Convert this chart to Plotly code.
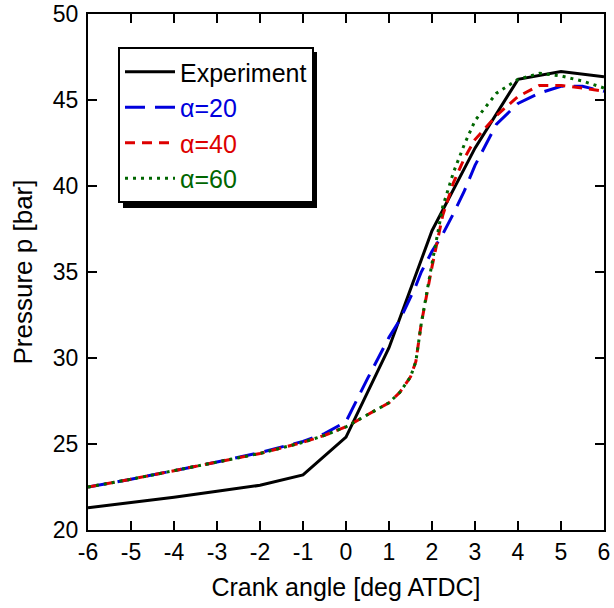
import plotly.graph_objects as go

x_exp = [-6, -5, -4, -3, -2, -1, 0, 1, 2, 3, 4, 5, 6]
p_exp = [21.3, 21.6, 21.9, 22.25, 22.6, 23.2, 25.4, 30.6, 37.4, 42.2, 46.2, 46.65, 46.35]

x_sim = [-6, -5, -4, -3, -2, -1, -0.5, 0, 0.5, 1, 1.25, 1.5, 1.625, 1.75, 2, 2.25, 2.5, 2.75, 3, 3.5, 4, 4.5, 5, 5.5, 6]
p_a20 = [22.5, 22.95, 23.45, 23.95, 24.5, 25.15, 25.6, 26.3, 28.8, 31.2, 32.2, 33.5, 34.2, 35.0, 36.2, 37.2, 38.4, 39.7, 41.2, 43.6, 44.8, 45.4, 45.8, 45.8, 45.5]
p_a40 = [22.5, 22.95, 23.45, 23.95, 24.45, 25.1, 25.5, 26.0, 26.7, 27.4, 28.0, 28.9, 29.8, 32.0, 35.3, 38.3, 40.2, 41.6, 42.7, 44.1, 45.2, 45.85, 45.85, 45.7, 45.5]
p_a60 = [22.5, 22.95, 23.45, 23.95, 24.45, 25.1, 25.5, 26.0, 26.7, 27.4, 28.0, 28.9, 29.8, 32.0, 35.5, 38.8, 40.8, 42.4, 43.8, 45.4, 46.2, 46.55, 46.4, 46.1, 45.7]

names = ["Experiment", "α=20", "α=40", "α=60"]
colors = ["black", "#0000dd", "#dd0000", "#006600"]

x_ticks = list(range(-6, 7))
x_ticktext = [str(v) for v in x_ticks]
y_ticks = list(range(20, 51, 5))

FONT = "Liberation Sans, Arial, sans-serif"

fig = go.Figure()
fig.add_trace(go.Scatter(x=x_exp, y=p_exp, mode="lines",
                         line=dict(color=colors[0], width=3),
                         name=f"<span style='color:{colors[0]}'>{names[0]}</span>"))
fig.add_trace(go.Scatter(x=x_sim, y=p_a20, mode="lines",
                         line=dict(color=colors[1], width=3, dash="20px,10px"),
                         name=f"<span style='color:{colors[1]}'>{names[1]}</span>"))
fig.add_trace(go.Scatter(x=x_sim, y=p_a40, mode="lines",
                         line=dict(color=colors[2], width=3, dash="10px,7px"),
                         name=f"<span style='color:{colors[2]}'>{names[2]}</span>"))
fig.add_trace(go.Scatter(x=x_sim, y=p_a60, mode="lines",
                         line=dict(color=colors[3], width=3, dash="3px,5px"),
                         name=f"<span style='color:{colors[3]}'>{names[3]}</span>"))

axis_common = dict(showline=True, linecolor="black", linewidth=2, mirror="ticks",
                   ticks="inside", ticklen=9, tickwidth=2, tickcolor="black",
                   showgrid=False, zeroline=False, automargin=False,
                   ticklabeloverflow="allow",
                   tickfont=dict(size=23, color="black", family=FONT))

fig.update_xaxes(range=[-6, 6], tickvals=x_ticks, ticktext=x_ticktext, **axis_common,
                 title=dict(text="Crank angle [deg ATDC]",
                            font=dict(size=25, color="black", family=FONT), standoff=15))
fig.update_yaxes(range=[20, 50], tickvals=y_ticks, **axis_common, ticklabelstandoff=3,
                 title=dict(text="Pressure p [bar]",
                            font=dict(size=26, color="black", family=FONT), standoff=13))

# legend shadow
fig.add_shape(type="rect", xref="paper", yref="paper",
              x0=(123 - 88) / 516, x1=(317 - 88) / 516,
              y0=(530 - 208) / 516, y1=(530 - 52) / 516,
              fillcolor="black", line=dict(width=0), layer="below")

fig.update_layout(
    width=614, height=608,
    margin=dict(l=88, r=10, t=14, b=78),
    paper_bgcolor="white", plot_bgcolor="white",
    font=dict(family=FONT, size=23, color="black"),
    legend=dict(x=(118 - 88) / 516, y=(530 - 47) / 516, xanchor="left", yanchor="top",
                bgcolor="white", bordercolor="black", borderwidth=2,
                font=dict(size=25), tracegroupgap=0, itemwidth=50),
    showlegend=True,
)

fig.write_html("out.html")
